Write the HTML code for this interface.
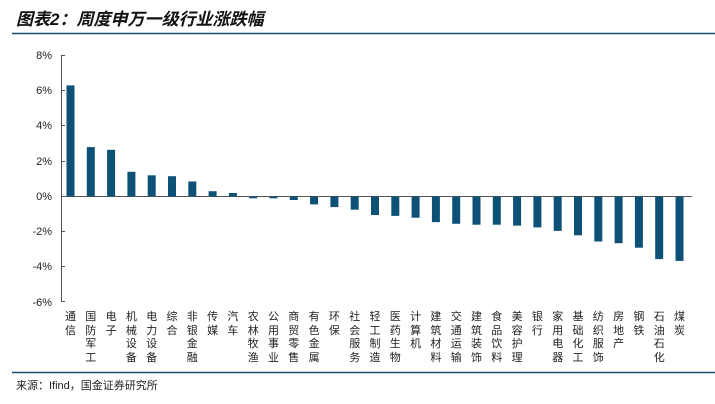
<!DOCTYPE html><html><head><meta charset="utf-8"><style>
body{margin:0;width:715px;height:404px;background:#fff;overflow:hidden;font-family:"Liberation Sans","Noto Sans CJK SC",sans-serif;position:relative}
.l{position:absolute;top:311px;width:12px;font-size:11px;line-height:13.5px;text-align:center;color:#222;word-break:break-all}
</style></head><body>
<svg width="715" height="404" xmlns="http://www.w3.org/2000/svg" font-family="Liberation Sans, Noto Sans CJK SC, sans-serif" style="position:absolute;left:0;top:0">
<text x="16" y="25" font-size="17" font-weight="bold" font-style="italic" fill="#111">图表2：周度申万一级行业涨跌幅</text>
<line x1="12" y1="33.5" x2="715" y2="33.5" stroke="#1a4e6e" stroke-width="1.5"/>
<g font-size="11" fill="#222" text-anchor="end">
<text x="52" y="59">8%</text><text x="52" y="94">6%</text><text x="52" y="129">4%</text><text x="52" y="165">2%</text><text x="52" y="200">0%</text><text x="52" y="235">-2%</text><text x="52" y="270">-4%</text><text x="52" y="306">-6%</text>
</g>
<g stroke="#555" stroke-width="1">
<line x1="61.5" y1="55" x2="61.5" y2="302"/>
<line x1="61" y1="55.5" x2="65" y2="55.5"/><line x1="61" y1="90.5" x2="65" y2="90.5"/><line x1="61" y1="125.5" x2="65" y2="125.5"/><line x1="61" y1="161.5" x2="65" y2="161.5"/><line x1="61" y1="231.5" x2="65" y2="231.5"/><line x1="61" y1="266.5" x2="65" y2="266.5"/><line x1="61" y1="301.5" x2="65" y2="301.5"/>
<line x1="61" y1="196.5" x2="692" y2="196.5"/>
</g>
<g fill="#0e5177">
<rect x="66.5" y="85.4" width="8" height="111.1"/>
<rect x="86.8" y="147.1" width="8" height="49.4"/>
<rect x="107.1" y="149.8" width="8" height="46.7"/>
<rect x="127.4" y="171.8" width="8" height="24.7"/>
<rect x="147.7" y="175.3" width="8" height="21.2"/>
<rect x="168" y="176.2" width="8" height="20.3"/>
<rect x="188.3" y="181.5" width="8" height="15"/>
<rect x="208.6" y="191.2" width="8" height="5.3"/>
<rect x="228.9" y="193" width="8" height="3.5"/>
<rect x="249.2" y="196.5" width="8" height="1.8"/>
<rect x="269.5" y="196.5" width="8" height="1.8"/>
<rect x="289.8" y="196.5" width="8" height="3.5"/>
<rect x="310.1" y="196.5" width="8" height="7.9"/>
<rect x="330.4" y="196.5" width="8" height="10.6"/>
<rect x="350.7" y="196.5" width="8" height="13.2"/>
<rect x="371" y="196.5" width="8" height="18.5"/>
<rect x="391.3" y="196.5" width="8" height="19.4"/>
<rect x="411.6" y="196.5" width="8" height="21.2"/>
<rect x="431.9" y="196.5" width="8" height="25.6"/>
<rect x="452.2" y="196.5" width="8" height="27.3"/>
<rect x="472.5" y="196.5" width="8" height="28.2"/>
<rect x="492.8" y="196.5" width="8" height="28.2"/>
<rect x="513.1" y="196.5" width="8" height="29.1"/>
<rect x="533.4" y="196.5" width="8" height="30.9"/>
<rect x="553.7" y="196.5" width="8" height="34.4"/>
<rect x="574" y="196.5" width="8" height="38.8"/>
<rect x="594.3" y="196.5" width="8" height="45"/>
<rect x="614.6" y="196.5" width="8" height="46.7"/>
<rect x="634.9" y="196.5" width="8" height="51.2"/>
<rect x="655.2" y="196.5" width="8" height="62.6"/>
<rect x="675.5" y="196.5" width="8" height="64.4"/>
</g>
<line x1="12" y1="372.5" x2="715" y2="372.5" stroke="#1a4e6e" stroke-width="1.5"/>
<text x="16" y="389" font-size="11" fill="#222">来源：Ifind，国金证券研究所</text>
</svg>
<div class="l" style="left:64.5px">通信</div>
<div class="l" style="left:84.8px">国防军工</div>
<div class="l" style="left:105.1px">电子</div>
<div class="l" style="left:125.4px">机械设备</div>
<div class="l" style="left:145.7px">电力设备</div>
<div class="l" style="left:166px">综合</div>
<div class="l" style="left:186.3px">非银金融</div>
<div class="l" style="left:206.6px">传媒</div>
<div class="l" style="left:226.9px">汽车</div>
<div class="l" style="left:247.2px">农林牧渔</div>
<div class="l" style="left:267.5px">公用事业</div>
<div class="l" style="left:287.8px">商贸零售</div>
<div class="l" style="left:308.1px">有色金属</div>
<div class="l" style="left:328.4px">环保</div>
<div class="l" style="left:348.7px">社会服务</div>
<div class="l" style="left:369px">轻工制造</div>
<div class="l" style="left:389.3px">医药生物</div>
<div class="l" style="left:409.6px">计算机</div>
<div class="l" style="left:429.9px">建筑材料</div>
<div class="l" style="left:450.2px">交通运输</div>
<div class="l" style="left:470.5px">建筑装饰</div>
<div class="l" style="left:490.8px">食品饮料</div>
<div class="l" style="left:511.1px">美容护理</div>
<div class="l" style="left:531.4px">银行</div>
<div class="l" style="left:551.7px">家用电器</div>
<div class="l" style="left:572px">基础化工</div>
<div class="l" style="left:592.3px">纺织服饰</div>
<div class="l" style="left:612.6px">房地产</div>
<div class="l" style="left:632.9px">钢铁</div>
<div class="l" style="left:653.2px">石油石化</div>
<div class="l" style="left:673.5px">煤炭</div>
</body></html>
